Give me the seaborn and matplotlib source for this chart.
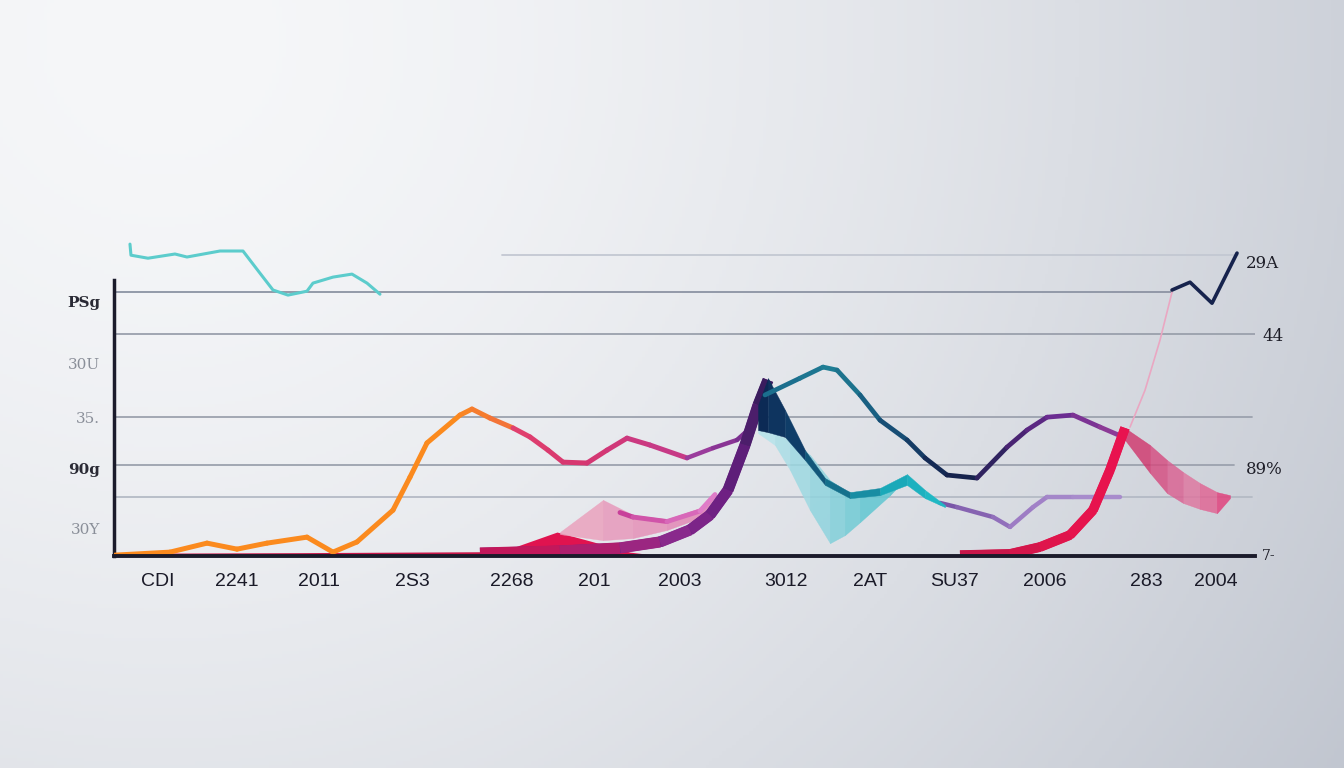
import numpy as np
import matplotlib
matplotlib.use("Agg")
import matplotlib.pyplot as plt
from matplotlib.colors import LinearSegmentedColormap, to_rgb
import seaborn as sns

# ── axis text ────────────────────────────────────────────────────────
x_labels = ["CDI", "2241", "2011", "2S3", "2268", "201", "2003",
            "3012", "2AT", "SU37", "2006", "283", "2004"]
x_ticks = [15.8, 23.7, 31.9, 41.2, 51.2, 59.4, 68.0, 78.6, 87.0, 95.4, 104.5, 114.6, 121.6]
y_left_labels = ["PSg", "30U", "35.", "90g", "30Y"]
y_left_ticks = [84.7, 64.3, 46.3, 29.3, 9.3]
right_labels = ["29A", "44", "89%", "7-"]
right_label_y = [97.7, 73.3, 28.7, 0.0]
grid_levels = [100.3, 88.0, 74.0, 46.3, 30.3, 19.7]

# ── series (x along axis, y above baseline) ──────────────────────────
teal_x = [13.0, 13.1, 14.8, 17.5, 18.7, 22.0, 24.3, 26.0, 27.3, 28.8, 30.7, 31.3, 33.3, 35.2, 36.7, 38.0]
teal_y = [104.0, 100.3, 99.3, 100.7, 99.7, 101.7, 101.7, 94.3, 88.7, 87.0, 88.3, 91.0, 93.0, 94.0, 91.0, 87.3]

main_x = [11.5, 17.0, 20.7, 23.7, 26.7, 30.7, 33.3, 35.7, 39.3, 41.0, 42.7, 46.0, 47.2, 49.0, 51.3,
          53.0, 54.8, 56.3, 58.7, 60.7, 62.7, 65.0, 68.7, 71.3, 73.7, 74.8]
main_y = [0.3, 1.3, 4.3, 2.3, 4.3, 6.3, 1.3, 4.7, 15.3, 26.3, 37.7, 47.0, 49.0, 46.0, 42.7,
          39.7, 35.3, 31.3, 31.0, 35.3, 39.3, 37.0, 32.7, 36.0, 38.7, 42.0]

rise_x = [48.0, 56.0, 62.0, 66.0, 69.0, 71.0, 72.8, 74.5, 75.8, 76.8]
rise_y = [1.0, 1.7, 2.7, 4.7, 8.7, 13.7, 22.0, 37.0, 50.3, 58.7]

dark_x = [75.8, 76.8, 78.5, 80.5, 82.5, 85.0, 88.0, 90.7, 92.5, 94.5]
dark_hi = [50.3, 59.3, 48.7, 35.3, 26.0, 21.3, 22.7, 27.3, 22.0, 17.0]
dark_lo = [42.0, 41.3, 39.7, 32.0, 23.7, 19.3, 20.3, 23.7, 19.3, 16.3]

cyan_x = [75.8, 77.5, 79.0, 81.0, 83.0, 84.5, 86.0, 89.0, 90.7]
cyan_hi = [42.0, 40.7, 38.7, 33.7, 25.3, 22.0, 20.3, 22.0, 27.0]
cyan_lo = [41.0, 37.0, 28.7, 15.3, 4.3, 7.0, 11.3, 20.3, 26.3]

wave_x = [76.5, 80.0, 82.3, 83.7, 86.0, 88.0, 90.7, 92.5, 94.7, 97.7, 100.7, 102.7, 104.7, 107.3, 110.0, 112.3]
wave_y = [53.7, 59.3, 63.0, 62.0, 53.7, 45.3, 38.7, 32.7, 27.0, 26.0, 36.3, 42.0, 46.3, 47.0, 43.0, 39.7]

lav_x = [94.0, 95.7, 99.3, 101.0, 103.3, 104.7, 107.3, 112.0]
lav_y = [17.7, 16.3, 13.0, 9.7, 16.3, 19.7, 19.7, 19.7]

pink_x = [56.0, 60.3, 63.3, 66.7, 70.0, 71.5]
pink_hi = [8.0, 18.7, 13.7, 12.3, 16.0, 21.0]
pink_lo = [7.3, 5.3, 6.0, 8.7, 12.7, 19.7]
magenta_x = [62.0, 63.3, 66.7, 70.0, 71.5]
magenta_y = [14.5, 13.0, 11.5, 15.0, 20.5]

red_fill_x = [48.0, 51.2, 55.7, 58.7, 63.0, 65.0]
red_fill_y = [0.7, 2.7, 8.0, 5.3, 1.3, 0.5]
red_base_x = [11.5, 30.0, 48.0]
red_base_y = [0.3, 0.5, 0.8]

red_rise_x = [96.0, 101.0, 104.0, 107.0, 109.3, 111.0, 112.5]
red_rise_y = [0.3, 0.7, 3.0, 7.0, 15.3, 28.7, 42.7]

rpink_x = [112.5, 115.0, 116.7, 118.3, 120.0, 121.7, 123.0]
rpink_hi = [42.7, 37.0, 32.0, 28.0, 24.3, 21.3, 20.3]
rpink_lo = [38.7, 27.7, 21.0, 17.7, 15.7, 14.3, 19.3]

faint_x = [113.0, 114.5, 116.0, 117.2]
faint_y = [43.0, 55.3, 72.0, 88.0]

navy_x = [117.2, 119.0, 121.2, 123.7]
navy_y = [88.7, 91.3, 84.3, 101.0]


def gradient_line(ax, xs, ys, colors, lw, z, cap="round", base=False):
    cmap = LinearSegmentedColormap.from_list("g", colors)
    n = len(xs) - 1
    if base:
        # one continuous stroke underneath so butt-capped segments don't leave gaps
        sns.lineplot(x=xs, y=ys, color=cmap(0.6), lw=lw * 0.95, ax=ax, zorder=z - 0.1,
                     solid_joinstyle="round", solid_capstyle="butt", estimator=None, sort=False)
    for i in range(n):
        sns.lineplot(x=xs[i:i + 2], y=ys[i:i + 2], color=cmap(i / max(n - 1, 1)), lw=lw,
                     ax=ax, zorder=z, solid_capstyle=cap, estimator=None, sort=False)


def ribbon(ax, xs, lo, hi, colors, alpha, z):
    cmap = LinearSegmentedColormap.from_list("r", colors)
    n = len(xs) - 1
    for i in range(n):
        c = cmap(i / max(n - 1, 1))
        ax.fill_between(xs[i:i + 2], lo[i:i + 2], hi[i:i + 2], color=c,
                        alpha=alpha, lw=0.3, edgecolor=c, zorder=z)


sns.set_theme(style="white")
plt.rcParams["font.family"] = ["Liberation Sans", "DejaVu Sans"]

fig = plt.figure(figsize=(13.44, 7.68), dpi=100)

# soft background gradient
bg = fig.add_axes([0, 0, 1, 1], zorder=-10)
gx, gy = np.meshgrid(np.linspace(0, 1, 400), np.linspace(0, 1, 230))
t = np.clip(np.sqrt(((gx - 0.12) * 0.95) ** 2 + ((gy - 0.05) * 0.55) ** 2) / 1.0, 0, 1) ** 1.6
light, dark = np.array(to_rgb("#f6f7f9")), np.array(to_rgb("#c0c5cf"))
bg.imshow(light * (1 - t[..., None]) + dark * t[..., None], aspect="auto", extent=[0, 1, 0, 1])
bg.axis("off")

ax = fig.add_axes([0.0848, 0.276, 0.849, 0.4245])
ax.patch.set_alpha(0)
ax.set_xlim(11.4, 125.5)
ax.set_ylim(0, 108.7)

# grid lines
grid_spans = [(0.34, 0.985), (0, 0.927), (0, 1.0), (0, 0.997), (0, 0.982), (0, 0.997)]
grid_colors = ["#c3c8d2", "#8c93a3", "#9aa0ac", "#9ca2ae", "#9ca2ae", "#b4bac5"]
for lvl, (a, b), c in zip(grid_levels, grid_spans, grid_colors):
    ax.axhline(lvl, xmin=a, xmax=b, color=c, lw=1.3, zorder=1)

# top-left teal line
sns.lineplot(x=teal_x, y=teal_y, color="#5ccccc", lw=2.2, ax=ax, zorder=4,
             estimator=None, sort=False)

# red pieces along the baseline
sns.lineplot(x=red_base_x, y=red_base_y, color="#c8174a", lw=2, ax=ax, zorder=3,
             estimator=None, sort=False)
ax.fill_between(red_fill_x, 0, red_fill_y, color="#e0134f", lw=0, zorder=3)

# light pink wedge + magenta band
ribbon(ax, pink_x, pink_lo, pink_hi, ["#eaa2bd", "#e07fb4"], 0.85, 3)
gradient_line(ax, magenta_x, magenta_y, ["#c8409a", "#e07cc8"], 3.5, 4)

# orange -> pink -> purple line
gradient_line(ax, main_x[:15], main_y[:15],
              ["#fb8a1e"] * 5 + ["#f37438"], 3.6, 5)
gradient_line(ax, main_x[14:23], main_y[14:23], ["#e0406e", "#d63670", "#c73a86"], 3.6, 5)
gradient_line(ax, main_x[22:], main_y[22:], ["#9a3c9c", "#7a2f8f"], 3.2, 5)

# big purple rise to the peak
gradient_line(ax, rise_x, rise_y, ["#c2185b", "#8e2a8e", "#6b1f82", "#3a1d5e"], 8, 6,
              cap="butt", base=True)

# light cyan drape and dark teal ribbon off the peak
ribbon(ax, cyan_x, cyan_lo, cyan_hi, ["#b6e3ea", "#8ad2dc", "#4fc2cc"], 0.85, 5)
ribbon(ax, dark_x, dark_lo, dark_hi, ["#0c2a55", "#0f3d68", "#15708c", "#1aa9b9", "#20b8c4"], 1.0, 6)

# teal -> navy -> purple wave
gradient_line(ax, wave_x[:9], wave_y[:9], ["#1b6f8e", "#1f7f95", "#17547a", "#142a55"], 3.4, 6)
gradient_line(ax, wave_x[8:], wave_y[8:], ["#16234d", "#4a2473", "#6b2c91", "#8c3a96"], 3.4, 6)

# lavender lower line
gradient_line(ax, lav_x, lav_y, ["#7a56a8", "#9d7cc4", "#a88ccc"], 3.2, 5)

# right red rise, pink drape, faint stem, navy tip
gradient_line(ax, red_rise_x, red_rise_y, ["#c8174a", "#e5144d", "#e8134f"], 7, 6,
              cap="butt", base=True)
ribbon(ax, rpink_x, rpink_lo, rpink_hi, ["#d0336a", "#d9568a", "#e07aa2", "#e23a78"], 0.8, 5)
sns.lineplot(x=faint_x, y=faint_y, color="#eaa7c2", lw=1.2, ax=ax, zorder=4,
             estimator=None, sort=False)
sns.lineplot(x=navy_x, y=navy_y, color="#16234d", lw=2.6, ax=ax, zorder=6,
             estimator=None, sort=False)

# spines and ticks
sns.despine(ax=ax)
ax.spines["left"].set_bounds(0, 92)
ax.spines["left"].set_color("#1b1b2b")
ax.spines["left"].set_linewidth(2.5)
ax.spines["bottom"].set_color("#1b1b2b")
ax.spines["bottom"].set_linewidth(2.8)
ax.spines["bottom"].set_zorder(7)

ax.set_xticks(x_ticks)
ax.set_xticklabels(x_labels, fontsize=14, color="#1a1a28")
ax.set_yticks(y_left_ticks)
ax.set_yticklabels(y_left_labels, fontsize=11)
ax.tick_params(axis="x", length=0, pad=12)
ax.tick_params(axis="y", length=0, pad=10)
y_styles = [("#2a2a35", "bold"), ("#8a8f99", "normal"), ("#8a8f99", "normal"),
            ("#2a2a35", "bold"), ("#8a8f99", "normal")]
for lab, (c, w) in zip(ax.get_yticklabels(), y_styles):
    lab.set_color(c)
    lab.set_fontweight(w)
    lab.set_family(["DejaVu Serif"])

right_x = [124.6, 126.2, 124.6, 126.2]
for lab, xv, yv in zip(right_labels, right_x, right_label_y):
    ax.text(xv, yv, lab, fontsize=12 if lab != "7-" else 10, color="#1e1e28",
            family=["DejaVu Serif"], ha="left", va="center", clip_on=False)

fig.savefig("out.png", dpi=100)
plt.close(fig)
